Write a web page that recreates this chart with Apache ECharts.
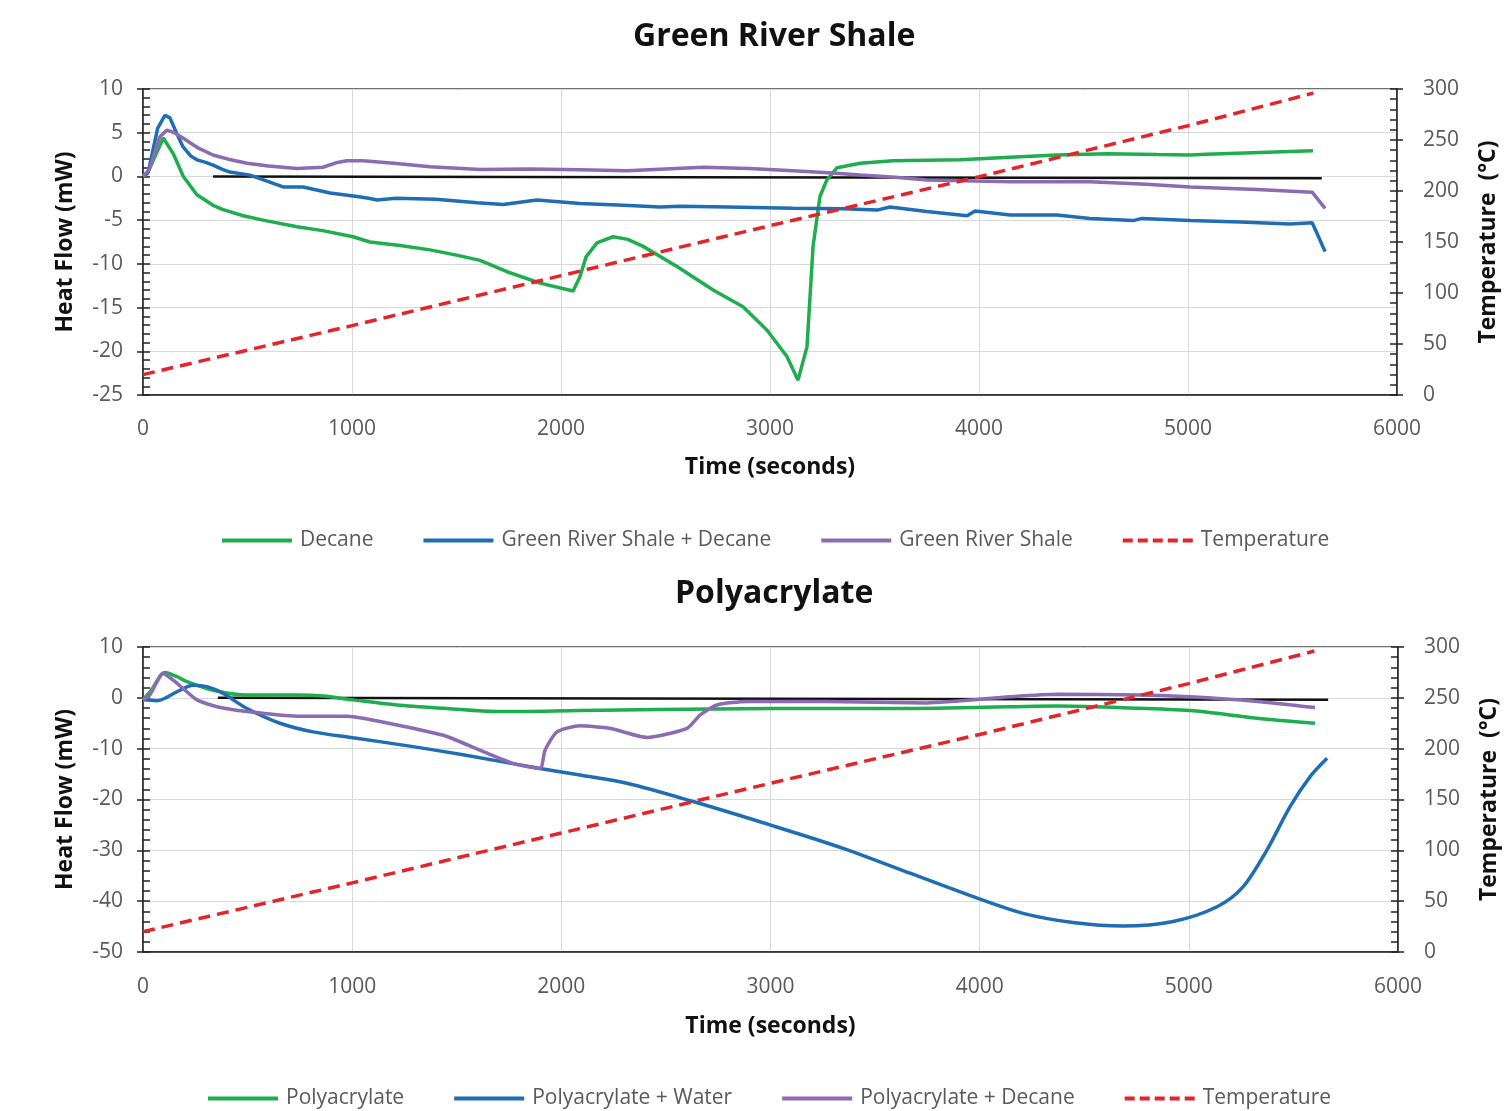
<!DOCTYPE html>
<html>
<head>
<meta charset="utf-8">
<script src="https://cdn.jsdelivr.net/npm/echarts@6/dist/echarts.min.js"></script>
<style>html,body{margin:0;padding:0;background:#fff}#c{width:1509px;height:1111px}</style>
</head>
<body>
<div id="c"></div>
<script>
// ---- data (time in seconds, heat flow in mW, temperature in °C) ----
const titles = ['Green River Shale', 'Polyacrylate'];
const namesTop = ['Decane', 'Green River Shale + Decane', 'Green River Shale', 'Temperature'];
const namesBottom = ['Polyacrylate', 'Polyacrylate + Water', 'Polyacrylate + Decane', 'Temperature'];

const decane = [[0,0],[20,0.3],[97,4.4],[145,2.6],[193,0],[258,-2.1],[335,-3.3],[383,-3.8],[480,-4.5],[574,-5.0],[737,-5.75],[860,-6.2],[1005,-6.9],[1086,-7.5],[1230,-7.9],[1373,-8.4],[1500,-9.0],[1613,-9.6],[1742,-10.9],[1900,-12.2],[2058,-13.1],[2090,-11.5],[2120,-9.2],[2172,-7.6],[2249,-6.9],[2320,-7.2],[2393,-8.0],[2555,-10.3],[2728,-13.0],[2871,-14.9],[2986,-17.6],[3081,-20.6],[3134,-23.3],[3177,-19.5],[3206,-8.0],[3239,-2.3],[3272,-0.4],[3321,1.0],[3431,1.5],[3589,1.8],[3909,1.9],[4149,2.2],[4373,2.45],[4613,2.6],[4850,2.5],[5010,2.45],[5088,2.55],[5598,2.95]];
const grsDecane = [[0,0],[25,0.5],[70,5.5],[105,7.0],[129,6.7],[160,5.0],[191,3.4],[230,2.3],[258,1.9],[300,1.6],[335,1.3],[380,0.8],[416,0.5],[512,0.15],[600,-0.6],[670,-1.2],[766,-1.2],[895,-1.9],[1024,-2.3],[1080,-2.5],[1120,-2.7],[1210,-2.5],[1400,-2.6],[1600,-3.0],[1723,-3.2],[1885,-2.7],[2091,-3.1],[2300,-3.3],[2474,-3.5],[2569,-3.4],[2800,-3.5],[3110,-3.65],[3350,-3.7],[3512,-3.85],[3574,-3.5],[3750,-4.0],[3943,-4.5],[3981,-3.95],[4149,-4.4],[4373,-4.4],[4531,-4.8],[4737,-5.05],[4780,-4.8],[5010,-5.05],[5250,-5.2],[5488,-5.45],[5594,-5.3],[5617,-6.5],[5656,-8.6]];
const grs = [[0,0],[30,0.8],[80,4.5],[115,5.3],[150,5.0],[191,4.4],[260,3.3],[335,2.45],[420,1.9],[498,1.5],[600,1.2],[737,0.9],[861,1.05],[930,1.6],[976,1.8],[1053,1.8],[1200,1.5],[1373,1.1],[1613,0.8],[1850,0.85],[2091,0.75],[2316,0.65],[2500,0.85],[2680,1.05],[2900,0.9],[3110,0.65],[3300,0.4],[3431,0.15],[3600,-0.1],[3751,-0.4],[4149,-0.6],[4531,-0.6],[4800,-0.9],[5010,-1.2],[5330,-1.5],[5594,-1.8],[5656,-3.65]];
const baselineTop = [[335,0],[5640,-0.2]];

const polyacrylate = [[0,-0.4],[40,1.5],[105,5.0],[160,4.2],[210,3.2],[335,1.5],[497,0.55],[736,0.55],[861,0.35],[1004,-0.4],[1214,-1.4],[1453,-2.1],[1692,-2.7],[2089,-2.5],[2472,-2.3],[2998,-2.1],[3586,-2.1],[4145,-1.75],[4370,-1.6],[4685,-1.95],[5006,-2.5],[5326,-4.0],[5603,-5.0]];
const polyWater = [[0,-0.4],[67,-0.55],[163,1.2],[239,2.5],[306,2.2],[382,0.9],[497,-2.1],[655,-5.0],[813,-6.7],[1004,-7.85],[1291,-9.6],[1530,-11.2],[1898,-13.9],[2089,-15.2],[2314,-16.8],[2630,-20.4],[2998,-25.0],[3347,-29.6],[3667,-34.5],[3988,-39.4],[4207,-42.4],[4446,-44.2],[4685,-44.9],[4925,-44.0],[5135,-41.1],[5259,-37.2],[5374,-29.9],[5484,-21.4],[5580,-15.5],[5661,-11.9]];
const polyDecane = [[0,-0.4],[33,0.55],[96,4.8],[163,2.85],[258,-0.4],[354,-1.75],[497,-2.7],[736,-3.6],[975,-3.6],[1052,-4.0],[1291,-6.0],[1453,-7.6],[1611,-10.3],[1769,-12.9],[1898,-13.9],[1922,-10.3],[1979,-6.7],[2089,-5.5],[2233,-6.0],[2410,-7.8],[2601,-6.0],[2663,-3.4],[2744,-1.4],[2888,-0.7],[3270,-0.7],[3748,-1.0],[4145,0.2],[4370,0.7],[4767,0.55],[5006,0.2],[5326,-0.7],[5603,-1.9]];
const baselineBottom = [[358,0],[5666,-0.4]];

const temperature = [[0,20],[1000,68],[2000,117],[3000,166],[4000,214],[5000,264],[5600,296]];

// ---- styling ----
const FONT = '"Open Sans", "Liberation Sans", sans-serif';
const C = {green:'#1fae4f', blue:'#1f6eb4', purple:'#8b6bb1', red:'#e4242b', black:'#111'};
const tickColor = '#595959';
const ICON_SOLID = 'path://M0,0H70V4H0Z';
const ICON_DASH = 'path://M0,0H10V4H0Z M15,0H25V4H15Z M30,0H40V4H30Z M45,0H55V4H45Z M60,0H70V4H60Z';

function xAxisFor(gi, nameGap, labelMargin){
  return {type:'value', gridIndex:gi, min:0, max:6000, interval:1000,
    name:'Time (seconds)', nameLocation:'middle', nameGap:nameGap,
    nameTextStyle:{fontFamily:FONT, fontWeight:'bold', fontSize:23, color:'#111'},
    axisLine:{show:true, onZero:false, lineStyle:{color:'#222', width:1.5}},
    axisTick:{show:false},
    axisLabel:{fontFamily:FONT, fontSize:21, color:tickColor, margin:labelMargin, formatter:(v)=>String(v)},
    splitLine:{show:true, lineStyle:{color:'#d9d9d9', width:1}}};
}
function yMain(gi, pos, min, max, interval, name, gap){
  return {type:'value', gridIndex:gi, position:pos, min:min, max:max, interval:interval,
    name:name, nameLocation:'middle', nameGap:gap,
    nameTextStyle:{fontFamily:FONT, fontWeight:'bold', fontSize:23, color:'#111'},
    axisLine:{show:true, lineStyle:{color:'#222', width:1.5}},
    axisTick:{show:true, inside:true, length:7, lineStyle:{color:'#222', width:1.5}},
    minorTick:{show:true, splitNumber:5, length:7, lineStyle:{color:'#222', width:1.5}},
    axisLabel:{fontFamily:FONT, fontSize:21, color:tickColor, margin:pos==='left'?20:26, formatter:(v)=>String(v)},
    splitLine:{show:pos==='left', lineStyle:{color:'#d9d9d9', width:1}}};
}
function yOuter(gi, pos, min, max, interval){
  return {type:'value', gridIndex:gi, position:pos, min:min, max:max, interval:interval,
    axisLine:{show:false}, axisLabel:{show:false}, splitLine:{show:false},
    axisTick:{show:true, inside:false, length:6, lineStyle:{color:'#222', width:1.5}}};
}
function lineSeries(name, data, color, xi, yi, opts){
  return Object.assign({type:'line', name:name, data:data, xAxisIndex:xi, yAxisIndex:yi,
    showSymbol:false, symbol:'none', lineStyle:{color:color, width:3.5}, itemStyle:{color:color},
    animation:false, z:3}, opts||{});
}
function legendData(names){
  return names.map(n => ({name:n, icon: n==='Temperature' ? ICON_DASH : ICON_SOLID}));
}
function legendFor(names, top, left){
  return {data:legendData(names), top:top, left:left, padding:0, itemWidth:70, itemHeight:4, itemGap:50,
    textStyle:{fontFamily:FONT, fontSize:21, color:tickColor, padding:[0,0,0,3]}};
}

const option = {
  backgroundColor:'#fff',
  animation:false,
  graphic:[
    {type:'text', left:773-140, top:21, style:{text:titles[0], x:0, y:0, font:'bold 32px '+FONT, fill:'#111'}},
    {type:'text', left:773-98, top:578, style:{text:titles[1], x:0, y:0, font:'bold 32px '+FONT, fill:'#111'}}
  ],
  legend:[legendFor(namesTop, 530, 222), legendFor(namesBottom, 1088, 208)],
  grid:[
    {left:143, top:89, width:1254, height:306, show:true, borderColor:'#444', borderWidth:1.5},
    {left:143, top:647, width:1255, height:305, show:true, borderColor:'#444', borderWidth:1.5}
  ],
  xAxis:[xAxisFor(0, 61, 24), xAxisFor(1, 63, 25)],
  yAxis:[
    yMain(0,'left',-25,10,5,'Heat Flow (mW)',66),
    yMain(0,'right',0,300,50,'Temperature  (°C)',80),
    yMain(1,'left',-50,10,10,'Heat Flow (mW)',66),
    yMain(1,'right',0,300,50,'Temperature  (°C)',80),
    yOuter(0,'left',-25,10,5),
    yOuter(0,'right',0,300,50),
    yOuter(1,'left',-50,10,10),
    yOuter(1,'right',0,300,50)
  ],
  series:[
    lineSeries('baseline-top', baselineTop, C.black, 0, 0, {lineStyle:{color:C.black, width:2.5}, z:2}),
    lineSeries(namesTop[0], decane, C.green, 0, 0),
    lineSeries(namesTop[1], grsDecane, C.blue, 0, 0),
    lineSeries(namesTop[2], grs, C.purple, 0, 0),
    lineSeries(namesTop[3], temperature, C.red, 0, 1, {lineStyle:{color:C.red, width:3.5, type:[12,7]}, z:4}),

    lineSeries('baseline-bottom', baselineBottom, C.black, 1, 2, {lineStyle:{color:C.black, width:2.5}, z:2}),
    lineSeries(namesBottom[0], polyacrylate, C.green, 1, 2, {smooth:0.3}),
    lineSeries(namesBottom[1], polyWater, C.blue, 1, 2, {smooth:0.3}),
    lineSeries(namesBottom[2], polyDecane, C.purple, 1, 2, {smooth:0.2}),
    lineSeries(namesBottom[3], temperature, C.red, 1, 3, {lineStyle:{color:C.red, width:3.5, type:[12,7]}, z:4})
  ]
};
const chart = echarts.init(document.getElementById('c'), null, {renderer:'canvas'});
chart.setOption(option);
</script>
</body>
</html>
